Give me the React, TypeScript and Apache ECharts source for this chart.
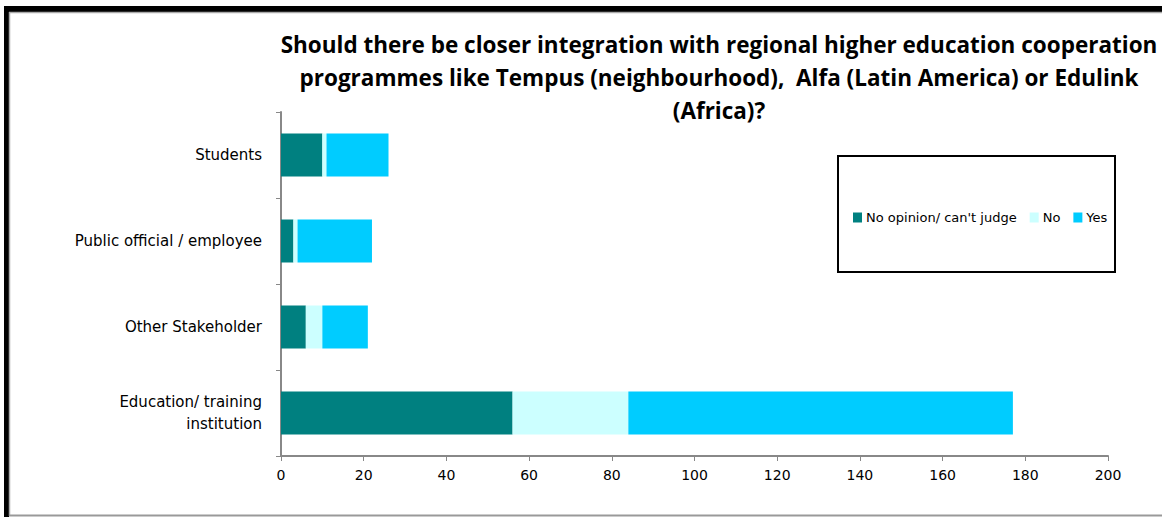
import React, { useEffect, useRef } from "react";
import * as echarts from "echarts";

const categories = ["Education/ training\ninstitution", "Other Stakeholder", "Public official / employee", "Students"];
const noOpinion = [56, 6, 3, 10];
const noValues = [28, 4, 1, 1];
const yesValues = [93, 11, 18, 15];
const xTicks = { min: 0, max: 200, interval: 20 };
const titleText = "Should there be closer integration with regional higher education cooperation\nprogrammes like Tempus (neighbourhood),  Alfa (Latin America) or Edulink\n(Africa)?";

export default function App() {
  const ref = useRef<HTMLDivElement>(null);
  useEffect(() => {
    if (!ref.current) return;
    const chart = echarts.init(ref.current, null, { renderer: "svg" });
    const labelFont = "'DejaVu Sans', Verdana, sans-serif";
    chart.setOption({
      animation: false,
      backgroundColor: "#ffffff",
      title: {
        text: titleText,
        left: 714,
        textAlign: "center",
        top: 23,
        textStyle: {
          fontFamily: "'Open Sans', sans-serif",
          fontWeight: "bold",
          fontSize: 22.5,
          lineHeight: 33,
          color: "#000",
        },
      },
      legend: {
        data: ["No opinion/ can't judge", "No", "Yes"],
        left: 848,
        top: 206,
        itemWidth: 9,
        itemHeight: 10,
        itemGap: 13,
        icon: "rect",
        textStyle: { fontSize: 13, fontFamily: labelFont, color: "#000", padding: [0, 0, 0, -1] },
      },
      grid: { left: 281, right: 54, top: 112, bottom: 61, containLabel: false },
      xAxis: {
        type: "value",
        min: xTicks.min,
        max: xTicks.max,
        interval: xTicks.interval,
        splitLine: { show: false },
        axisLine: { show: true, lineStyle: { color: "#888", width: 2 } },
        axisTick: { show: true, length: 5, lineStyle: { color: "#888" } },
        axisLabel: { fontSize: 14, fontFamily: labelFont, color: "#000", margin: 12 },
      },
      yAxis: {
        type: "category",
        data: categories,
        axisLine: { show: true, lineStyle: { color: "#888", width: 2 } },
        axisTick: { show: true, length: 5, inside: false, lineStyle: { color: "#888" } },
        axisLabel: { fontSize: 15, fontFamily: labelFont, color: "#000", margin: 19, lineHeight: 22, align: "right" },
      },
      series: [
        { name: "No opinion/ can't judge", type: "bar", stack: "s", data: noOpinion, barWidth: "50%", itemStyle: { color: "#008080" } },
        { name: "No", type: "bar", stack: "s", data: noValues, itemStyle: { color: "#CCFFFF" } },
        { name: "Yes", type: "bar", stack: "s", data: yesValues, itemStyle: { color: "#00CCFF" } },
      ],
      graphic: [
        { type: "rect", shape: { x: 4, y: 6, width: 1160, height: 6 }, style: { fill: "#000" }, silent: true },
        { type: "rect", shape: { x: 4, y: 6, width: 5, height: 520 }, style: { fill: "#000" }, silent: true },
        { type: "line", shape: { x1: 9.5, y1: 12, x2: 9.5, y2: 516 }, style: { stroke: "#aaa", lineWidth: 1.5 }, silent: true },
        { type: "line", shape: { x1: 9, y1: 12.5, x2: 1162, y2: 12.5 }, style: { stroke: "#aaa", lineWidth: 1.5 }, silent: true },
        { type: "line", shape: { x1: 9, y1: 515.5, x2: 1162, y2: 515.5 }, style: { stroke: "#999", lineWidth: 2 }, silent: true },
        { type: "rect", shape: { x: 838, y: 156, width: 277, height: 116 }, style: { fill: "none", stroke: "#000", lineWidth: 2 }, silent: true },
      ],
    });
    return () => chart.dispose();
  }, []);
  return <div ref={ref} style={{ position: "fixed", left: 0, top: 0, width: 1162, height: 517 }} />;
}
